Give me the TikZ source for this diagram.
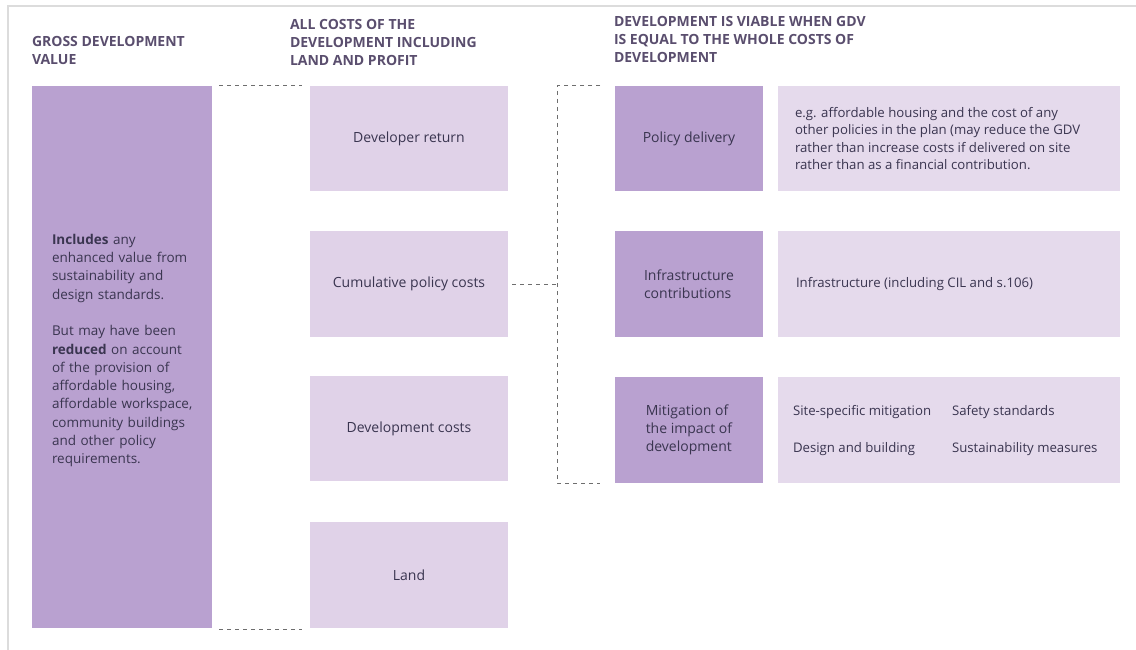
\documentclass[tikz,border=0pt]{standalone}
\usepackage{fontspec}
\setmainfont{Open Sans}
\usetikzlibrary{calc}
\definecolor{deepbox}{HTML}{B9A1D0}
\definecolor{paleBox}{HTML}{E0D2E8}
\definecolor{descbox}{HTML}{E5DAEC}
\definecolor{bodyink}{HTML}{3A3550}
\definecolor{headink}{HTML}{5A4E6E}
\definecolor{dashink}{HTML}{6E6E6E}
\definecolor{framegray}{HTML}{DCDCDC}
\begin{document}
\begin{tikzpicture}[x=1pt,y=-1pt,
  every node/.style={inner sep=0pt, outer sep=0pt, text=bodyink, font=\fontsize{14}{18.3}\selectfont},
  deep/.style={fill=deepbox, anchor=north west},
  pale/.style={fill=paleBox, anchor=north west},
  desc/.style={fill=descbox, anchor=north west},
  desctext/.style={anchor=west, align=left, font=\fontsize{13.2}{17.5}\selectfont},
  heading/.style={anchor=base west, text=headink, align=left,
    font=\fontsize{14}{18}\selectfont\bfseries},
  dashline/.style={draw=dashink, line width=1pt, dash pattern=on 4pt off 4pt}
]
\useasboundingbox (0,0) rectangle (1136,650);
\fill[white] (0,0) rectangle (1136,650);
% outer frame
\draw[framegray, line width=1.2pt] (8,650) -- (8,6) -- (1136,6);

% column headings (anchored on the baseline of the last line)
\node[heading] (h1) at (32,65) {GROSS DEVELOPMENT\\VALUE};
\node[heading] (h2) at (290,66) {ALL COSTS OF THE\\DEVELOPMENT INCLUDING\\LAND AND PROFIT};
\node[heading] (h3) at (614,63) {DEVELOPMENT IS VIABLE WHEN GDV\\IS EQUAL TO THE WHOLE COSTS OF\\DEVELOPMENT};

% gross development value
\node[deep, minimum width=180pt, minimum height=542pt] (gdv) at (32,86) {};
\node[anchor=north west, align=left, text width=155pt, font=\fontsize{13.5}{18.3}\selectfont] (gdvtext) at (52,234)
  {\textbf{Includes} any\\enhanced value from\\sustainability and\\design standards.\\[18.3pt]
   But may have been\\\textbf{reduced} on account\\of the provision of\\affordable housing,\\affordable workspace,\\community buildings\\and other policy\\requirements.};

% costs column
\node[pale, minimum width=198pt, minimum height=105pt] (ret) at (310,86) {};
\node at (ret.center) {Developer return};
\node[pale, minimum width=198pt, minimum height=106pt] (cum) at (310,231) {};
\node at (cum.center) {Cumulative policy costs};
\node[pale, minimum width=198pt, minimum height=105pt] (dev) at (310,376) {};
\node at (dev.center) {Development costs};
\node[pale, minimum width=198pt, minimum height=106pt] (land) at (310,522) {};
\node at (land.center) {Land};

% viability column
\node[deep, minimum width=148pt, minimum height=105pt] (pol) at (615,86) {};
\node at (pol.center) {Policy delivery};
\node[desc, minimum width=342pt, minimum height=105pt] (poldesc) at (778,86) {};
\node[desctext] at ($(poldesc.west)+(17,0)$)
  {e.g. affordable housing and the cost of any\\other policies in the plan (may reduce the GDV\\rather than increase costs if delivered on site\\rather than as a financial contribution.};

\node[deep, minimum width=148pt, minimum height=106pt] (inf) at (615,231) {};
\node[align=left] at (inf.center) {Infrastructure\\contributions};
\node[desc, minimum width=342pt, minimum height=106pt] (infdesc) at (778,231) {};
\node[desctext] at ($(infdesc.west)+(18,0)$)
  {Infrastructure (including CIL and s.106)};

\node[deep, minimum width=148pt, minimum height=106pt] (mit) at (615,377) {};
\node[align=left] at (mit.center) {Mitigation of\\the impact of\\development};
\node[desc, minimum width=342pt, minimum height=106pt] (mitdesc) at (778,377) {};
\node[desctext] (m1) at ($(mitdesc.west)+(15,-18)$) {Site-specific mitigation};
\node[desctext] (m2) at ($(mitdesc.west)+(174,-18)$) {Safety standards};
\node[desctext] (m3) at ($(mitdesc.west)+(15,19)$) {Design and building};
\node[desctext] (m4) at ($(mitdesc.west)+(174,19)$) {Sustainability measures};

% dashed links: GDV equals all costs
\draw[dashline] ($(gdv.north east)+(7,0)$) -- ($(ret.north west)+(-8,0)$);
\draw[dashline] ($(gdv.south east)+(7,1)$) -- ($(land.south west)+(-8,1)$);

% dashed bracket from cumulative policy costs to its components
\draw[dashline] ($(pol.north west)+(-15,0)$) -| ($(mit.south west)+(-58,0)$) -- ($(mit.south west)+(-15,0)$);
\draw[dashline] ($(cum.east)+(4,0)$) -- ($(cum.east)+(49,0)$);
\end{tikzpicture}
\end{document}
